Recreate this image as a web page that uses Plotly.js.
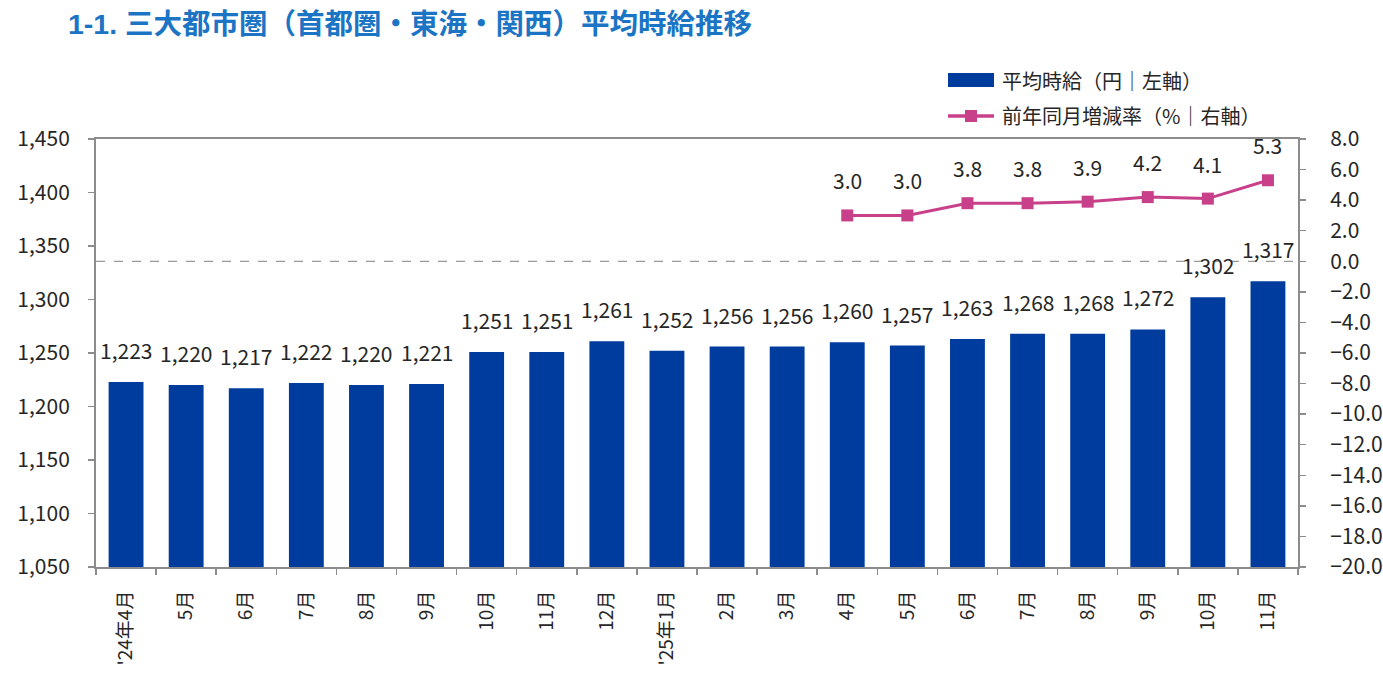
<!DOCTYPE html>
<html><head><meta charset="utf-8">
<script src="https://cdn.plot.ly/plotly-3.0.1.min.js"></script>
<style>html,body{margin:0;padding:0;background:#fff;}#chart{width:1383px;height:688px;}</style>
</head><body><div id="chart"></div>
<script>
const tickLabels = ["'24年4月","5月","6月","7月","8月","9月","10月","11月","12月","'25年1月","2月","3月","4月","5月","6月","7月","8月","9月","10月","11月"];
const wages = [1223,1220,1217,1222,1220,1221,1251,1251,1261,1252,1256,1256,1260,1257,1263,1268,1268,1272,1302,1317];
const yoy = [null,null,null,null,null,null,null,null,null,null,null,null,3.0,3.0,3.8,3.8,3.9,4.2,4.1,5.3];
const seriesNames = ['平均時給（円｜左軸）', '前年同月増減率（%｜右軸）'];

const FONT = "'Noto Sans CJK JP', 'Noto Sans', sans-serif";
const BAR_COLOR = '#003C9E';
const LINE_COLOR = '#C8408A';
const idx = tickLabels.map((_, i) => i);
const fmt = n => n.toLocaleString('en-US');

// plot area in pixels: left 96, right 1298, top 139, bottom 567
const PL = 96, PR = 1298, PT = 139, PB = 567;
const px = v => (v - PL) / (PR - PL);
const py = v => (PB - v) / (PB - PT);

const barTrace = {
  type: 'bar', x: idx, y: wages, name: seriesNames[0],
  marker: {color: BAR_COLOR}, width: 0.58, yaxis: 'y', hoverinfo: 'y', showlegend: false
};
const lineTrace = {
  type: 'scatter', mode: 'lines+markers', x: idx, y: yoy, name: seriesNames[1],
  yaxis: 'y2', line: {color: LINE_COLOR, width: 3}, marker: {symbol: 'square', size: 12, color: LINE_COLOR},
  connectgaps: false, showlegend: false
};

const annotations = [];
wages.forEach((v, i) => annotations.push({
  x: i, y: v, xref: 'x', yref: 'y', text: fmt(v), showarrow: false,
  yanchor: 'bottom', yshift: 15, font: {size: 21, color: '#262626', family: FONT}
}));
yoy.forEach((v, i) => { if (v !== null) annotations.push({
  x: i, y: v, xref: 'x', yref: 'y2', text: v.toFixed(1), showarrow: false,
  yanchor: 'bottom', yshift: 18, font: {size: 21, color: '#262626', family: FONT}
}); });
// legend drawn as annotations + shapes
annotations.push({xref: 'paper', yref: 'paper', x: px(1000), y: py(80), xanchor: 'left', yanchor: 'middle',
  text: seriesNames[0], showarrow: false, font: {size: 20, color: '#262626', family: FONT}});
annotations.push({xref: 'paper', yref: 'paper', x: px(1000), y: py(115), xanchor: 'left', yanchor: 'middle',
  text: seriesNames[1], showarrow: false, font: {size: 20, color: '#262626', family: FONT}});

const shapes = [
  {type: 'line', xref: 'paper', yref: 'y2', x0: 0, x1: 1, y0: 0, y1: 0, line: {color: '#999', width: 1.2, dash: 'dash'}},
  {type: 'rect', xref: 'paper', yref: 'paper', x0: px(948), x1: px(994), y0: py(87), y1: py(73), fillcolor: BAR_COLOR, line: {width: 0}},
  {type: 'line', xref: 'paper', yref: 'paper', x0: px(948), x1: px(994), y0: py(116), y1: py(116), line: {color: LINE_COLOR, width: 3.5}},
  {type: 'rect', xref: 'paper', yref: 'paper', x0: px(965), x1: px(977), y0: py(122), y1: py(110), fillcolor: LINE_COLOR, line: {width: 0}}
];

const layout = {
  width: 1383, height: 688,
  margin: {l: PL, r: 1383 - PR, t: PT, b: 688 - PB},
  paper_bgcolor: '#fff', plot_bgcolor: '#fff',
  font: {family: FONT, color: '#262626', size: 18},
  title: {text: '<b>1-1. 三大都市圏（首都圏・東海・関西）平均時給推移</b>', x: 68/1383, xanchor: 'left', y: 1 - 24/688, yanchor: 'middle',
          font: {size: 28.5, color: '#1B75C4', family: "'Liberation Sans', 'Noto Sans CJK JP', sans-serif"}},
  showlegend: false,
  bargap: 0.4,
  xaxis: {
    range: [-0.5, 19.5], tickmode: 'array', tickvals: idx, ticktext: tickLabels,
    tickangle: -90, ticks: '', showgrid: false, zeroline: false,
    showline: true, linecolor: '#8c8c8c', linewidth: 2, mirror: true,
    ticklabelstandoff: 14,
    tickfont: {size: 19, color: '#262626'},
    minor: {tickmode: 'array', tickvals: idx.concat([20]).map(i => i - 0.5), ticks: 'outside', ticklen: 6, tickcolor: '#8c8c8c', tickwidth: 1.5, showgrid: false}
  },
  yaxis: {
    range: [1050, 1450], tickvals: [1050,1100,1150,1200,1250,1300,1350,1400,1450], tickformat: ',',
    showgrid: false, zeroline: false, showline: true, linecolor: '#8c8c8c', linewidth: 2,
    ticks: 'outside', ticklen: 6, tickcolor: '#8c8c8c', tickwidth: 1.5, ticklabelstandoff: 14,
    tickfont: {size: 21, color: '#262626'}
  },
  yaxis2: {
    range: [-20, 8], dtick: 2, tick0: 0, tickformat: '.1f', overlaying: 'y', side: 'right',
    showgrid: false, zeroline: false, showline: true, linecolor: '#8c8c8c', linewidth: 2,
    ticks: 'outside', ticklen: 6, tickcolor: '#8c8c8c', tickwidth: 1.5, ticklabelstandoff: 20,
    tickfont: {size: 21, color: '#262626'}
  },
  shapes: shapes,
  annotations: annotations
};

Plotly.newPlot('chart', [barTrace, lineTrace], layout, {displayModeBar: false, staticPlot: true});
</script></body></html>
